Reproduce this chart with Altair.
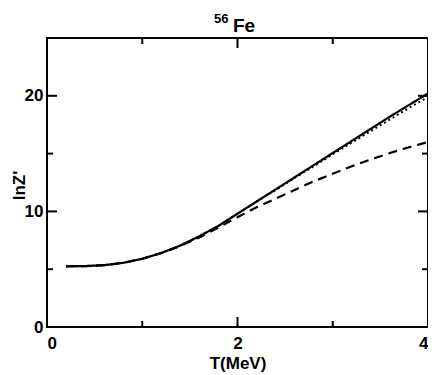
import altair as alt
import pandas as pd

# Data
T = [0.2, 0.4, 0.6, 0.8, 1.0, 1.2, 1.4, 1.6, 1.8, 2.0, 2.2, 2.4, 2.6, 2.8, 3.0, 3.2, 3.4, 3.6, 3.8, 4.0]
solid = [5.25, 5.27, 5.35, 5.55, 5.9, 6.4, 7.05, 7.85, 8.75, 9.8, 10.85, 11.9, 12.95, 14.0, 15.05, 16.1, 17.15, 18.2, 19.2, 20.2]
dashed = [5.25, 5.27, 5.35, 5.55, 5.9, 6.4, 7.0, 7.75, 8.6, 9.5, 10.35, 11.1, 11.85, 12.6, 13.25, 13.9, 14.5, 15.05, 15.55, 16.0]
dotted = [5.25, 5.27, 5.35, 5.55, 5.9, 6.4, 7.05, 7.85, 8.75, 9.8, 10.85, 11.85, 12.9, 13.9, 14.95, 15.95, 16.95, 17.95, 18.95, 19.9]

x_major_inner = [2]
x_minor = [1, 3]
y_major_inner = [10, 20]
y_minor = [5, 15]

W, H = 381, 289
FONT = "Liberation Sans"

xs = alt.Scale(domain=[0, 4], nice=False)
ys = alt.Scale(domain=[0, 25], nice=False)

df = pd.DataFrame({"T": T * 3,
                   "v": solid + dashed + dotted,
                   "s": ["solid"] * len(T) + ["dashed"] * len(T) + ["dotted"] * len(T)})

xaxis = alt.Axis(values=[0, 2, 4], format="d", domain=False, ticks=False, grid=False,
                 labelFont=FONT, labelFontWeight="bold", labelFontSize=17, labelColor="black",
                 labelPadding=8, title="T(MeV)", titleFont=FONT, titleFontWeight="bold",
                 titleFontSize=17, titleColor="black", titlePadding=4)
yaxis = alt.Axis(values=[0, 10, 20], format="d", domain=False, ticks=False, grid=False,
                 labelFont=FONT, labelFontWeight="bold", labelFontSize=17, labelColor="black",
                 labelPadding=4, title="lnZ'", titleFont=FONT, titleFontWeight="bold",
                 titleFontSize=17, titleColor="black", titleX=-28, titleY=147,
                 titleAngle=270, titleAlign="center", titleBaseline="middle")

def line(name, dash, width):
    return alt.Chart(df[df.s == name]).mark_line(color="black", strokeWidth=width, strokeDash=dash).encode(
        x=alt.X("T:Q", scale=xs, axis=xaxis),
        y=alt.Y("v:Q", scale=ys, axis=yaxis),
    )

l_solid = line("solid", [1, 0], 2.2)
l_dashed = line("dashed", [9, 6], 2.2)
l_dotted = line("dotted", [2, 3], 2)

def xticks(vals, length):
    d = pd.DataFrame({"t": vals})
    bot = alt.Chart(d).mark_rule(color="black", strokeWidth=2).encode(
        x=alt.X("t:Q", scale=xs), y=alt.value(H), y2=alt.value(H - length))
    top = alt.Chart(d).mark_rule(color="black", strokeWidth=2).encode(
        x=alt.X("t:Q", scale=xs), y=alt.value(0), y2=alt.value(length))
    return bot + top

def yticks(vals, length):
    d = pd.DataFrame({"t": vals})
    left = alt.Chart(d).mark_rule(color="black", strokeWidth=2).encode(
        y=alt.Y("t:Q", scale=ys), x=alt.value(0), x2=alt.value(length))
    right = alt.Chart(d).mark_rule(color="black", strokeWidth=2).encode(
        y=alt.Y("t:Q", scale=ys), x=alt.value(W), x2=alt.value(W - length))
    return left + right

title_sup = alt.Chart(pd.DataFrame({"t": ["56"]})).mark_text(
    font=FONT, fontWeight="bold", fontSize=13, align="left", baseline="alphabetic", color="black"
).encode(text="t:N", x=alt.value(167), y=alt.value(-15))
title_main = alt.Chart(pd.DataFrame({"t": ["Fe"]})).mark_text(
    font=FONT, fontWeight="bold", fontSize=19, align="left", baseline="alphabetic", color="black"
).encode(text="t:N", x=alt.value(186), y=alt.value(-6))

chart = alt.layer(
    l_dashed, l_dotted, l_solid,
    xticks(x_major_inner, 10), xticks(x_minor, 6),
    yticks(y_major_inner, 10), yticks(y_minor, 6),
    title_sup, title_main,
).properties(
    width=W, height=H,
    autosize=alt.AutoSizeParams(type="none"),
    padding={"left": 39, "top": 30, "right": 0, "bottom": 48},
    background="white",
).configure_view(stroke="black", strokeWidth=2)

chart.save("out.html", embed_options={"renderer": "svg", "actions": False})
